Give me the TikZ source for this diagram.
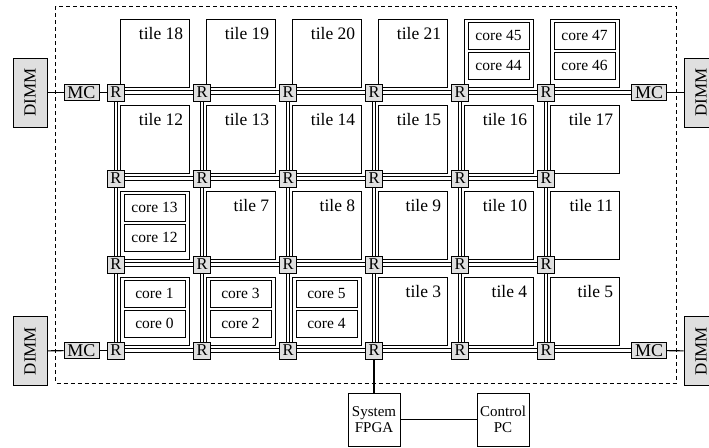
\documentclass[tikz,border=0pt]{standalone}
\usepackage{fontspec}
\setmainfont{Liberation Serif}
\usetikzlibrary{backgrounds}

\begin{document}
\begin{tikzpicture}[x=1pt, y=-1pt,
  every node/.style={font=\fontsize{15}{16}\selectfont},
  rtr/.style={draw, line width=0.8pt, fill=gray!25, minimum width=17pt, minimum height=17pt, inner sep=0pt, font=\fontsize{16.5}{17}\selectfont},
  mc/.style={draw, line width=0.8pt, fill=gray!25, minimum width=35pt, minimum height=16pt, inner sep=0pt, font=\fontsize{18}{18}\selectfont},
  dimm/.style={draw, line width=0.8pt, fill=gray!25, rotate=90, minimum width=69pt, minimum height=34pt, inner sep=0pt, font=\fontsize{17}{17}\selectfont},
  tile/.style={draw, line width=0.8pt, minimum width=69pt, minimum height=68pt, inner sep=0pt},
  core/.style={draw, line width=0.8pt, minimum width=61pt, minimum height=27pt, inner sep=0pt, font=\fontsize{15.5}{16}\selectfont},
  lbl/.style={inner sep=0pt, font=\fontsize{17.5}{18}\selectfont},
  sys/.style={draw, line width=0.8pt, minimum width=52pt, minimum height=53pt, align=center, inner sep=0pt},
  link/.style={double, line width=1.2pt, double distance=2.5pt},
  wire/.style={line width=1.1pt}
]
\clip (0,0) rectangle (709,447);

% Chip boundary
\draw[dashed, line width=0.8pt, dash pattern=on 4pt off 3pt] (55.5,6) rectangle (676,383);

% Tiles
\foreach \c in {1,...,6}
  \foreach \r in {1,...,4}
    \node[tile] (t\c\r) at ({154.5+86*(\c-1)},{53+86*(\r-1)}) {};

% Tile labels
\foreach \c/\r/\n in {1/1/18,2/1/19,3/1/20,4/1/21,
                      1/2/12,2/2/13,3/2/14,4/2/15,5/2/16,6/2/17,
                      2/3/7,3/3/8,4/3/9,5/3/10,6/3/11,
                      4/4/3,5/4/4,6/4/5}
  \node[lbl, anchor=north east] at ([shift={(-6,9)}]t\c\r.north east) {tile \n};

% Tiles showing their two cores
\foreach \c/\r/\a/\b in {5/1/45/44,6/1/47/46,1/3/13/12,1/4/1/0,2/4/3/2,3/4/5/4} {
  \node[core, anchor=north] (ca\c\r) at ([shift={(0,3)}]t\c\r.north) {core \a};
  \node[core, anchor=north] (cb\c\r) at ([shift={(0,33)}]t\c\r.north) {core \b};
}

% Routers
\foreach \c in {1,...,6}
  \foreach \r in {1,...,4}
    \node[rtr] (r\c\r) at ({116+86*(\c-1)},{92.5+86*(\r-1)}) {R};

% Memory controllers and DIMMs
\node[mc] (mcA) at (81.5,92.5) {MC};
\node[mc] (mcB) at (81.5,350.5) {MC};
\node[mc] (mcC) at (649,92.5) {MC};
\node[mc] (mcD) at (649,350.5) {MC};
\node[dimm] (dimmA) at (30,92.5) {DIMM};
\node[dimm] (dimmB) at (30,351) {DIMM};
\node[dimm] (dimmC) at (701,92.5) {DIMM};
\node[dimm] (dimmD) at (701,351) {DIMM};

% Mesh links
\begin{scope}[on background layer]
  \foreach \r in {1,...,4}
    \draw[link] (r1\r.center) -- (r6\r.center);
  \foreach \c in {1,...,6}
    \draw[link] (r\c1.center) -- (r\c4.center);
  \draw[link] (r61.center) -- (mcC.center);
  \draw[link] (r64.center) -- (mcD.center);
\end{scope}

\draw[wire] (dimmA) -- (mcA);
\draw[wire] (mcA) -- (r11);
\draw[wire] (dimmB) -- (mcB);
\draw[wire] (mcB) -- (r14);
\draw[wire] (mcC) -- (dimmC);
\draw[wire] (mcD) -- (dimmD);

% Off-chip system
\node[sys] (fpga) at (374,419.5) {System\\FPGA};
\node[sys] (pc) at (503,419.5) {Control\\PC};
\draw[wire] (r44) -- (fpga);
\draw[wire] (fpga) -- (pc);

\end{tikzpicture}
\end{document}
